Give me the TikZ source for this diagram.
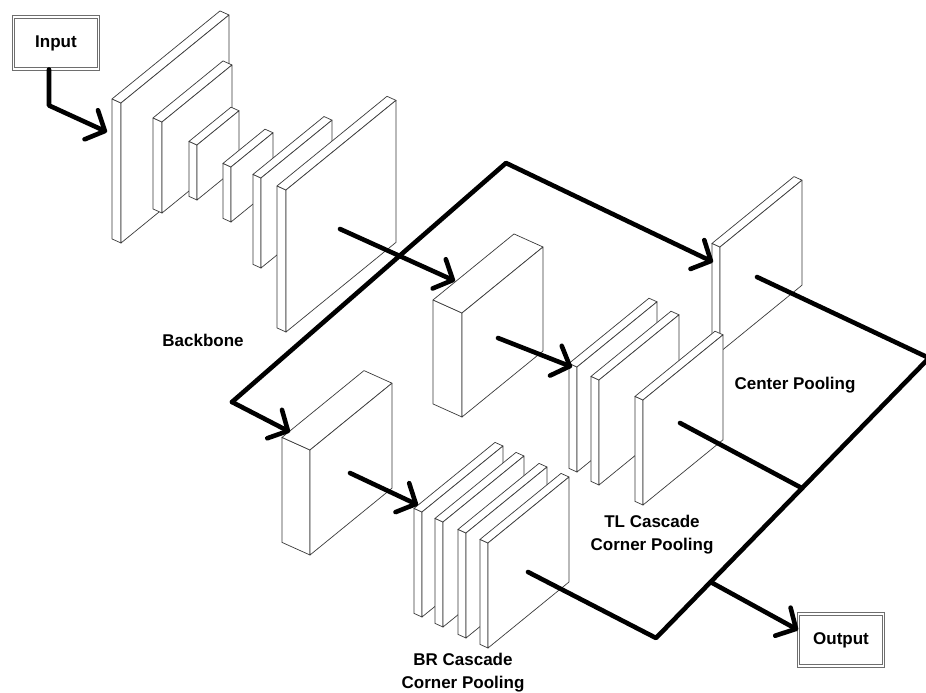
\documentclass[tikz,border=0pt]{standalone}
\usepackage{fontspec}
\setmainfont{Liberation Sans}
\usetikzlibrary{arrows.meta,calc}
\definecolor{cEdge}{HTML}{3A3A3A}
\definecolor{cFrame}{HTML}{6E6E6E}
\tikzset{
  slab/.style  ={draw=cEdge,fill=white,line width=0.7pt,line join=round},
  conn/.style  ={line width=4.6pt,line cap=round,line join=round,black},
  arr/.style   ={conn,-{Straight Barb[length=15pt,width=32pt,round]}},
  iobox/.style ={draw=cFrame,double=white,double distance=1.6pt,line width=0.9pt,
                 minimum width=85pt,minimum height=52pt,
                 font=\fontsize{17}{20}\selectfont\bfseries},
  lbl/.style   ={font=\fontsize{17}{23}\selectfont\bfseries,align=center},
}
% feature map: front bottom-left (#1,#2), width #3, height #4, depth #5
\newcommand{\featmap}[5]{%
  \filldraw[slab] (#1,#2) -- ++(0,-#4) -- ++(-#5,-0.45*#5) -- ++(0,#4) -- cycle;
  \filldraw[slab] (#1,#2-#4) -- ++(#3,-0.815*#3) -- ++(-#5,-0.45*#5) -- ++(-#3,0.815*#3) -- cycle;
  \filldraw[slab] (#1,#2) -- ++(0,-#4) -- ++(#3,-0.815*#3) -- ++(0,#4) -- cycle;
}

\begin{document}
\begin{tikzpicture}[x=1pt,y=-1pt]
\useasboundingbox (0,0) rectangle (926,693);

% backbone
\foreach \x/\y/\w/\h/\d in {121/243/108/140/9, 162/213/70/91/9, 197/200/42/55/8,
                            231/222/42/55/8, 261/268/71/90/8, 286/332/110/142/9}
  {\featmap{\x}{\y}{\w}{\h}{\d}}

% thick maps of the two corner branches
\featmap{462}{417}{81}{104}{29}
\featmap{310}{555}{82}{105}{28}

% center pooling sits behind the TL cascade
\featmap{720}{352}{82}{105}{8}

% TL cascade corner pooling
\foreach \x/\y in {577/472, 599/485, 643/505}
  {\featmap{\x}{\y}{80}{105}{8}}

% BR cascade corner pooling
\foreach \x/\y in {422/617, 443/627, 466/638, 488/648}
  {\featmap{\x}{\y}{81}{105}{8}}

\node[iobox] (in)  at (56,43)  {Input};
\node[iobox] (out) at (841,640) {Output};

\coordinate (bb out)   at (340,229);
\coordinate (tl in)    at (455,281);
\coordinate (split)    at (232,402);
\coordinate (peak)     at (506,163);
\coordinate (cp in)    at (713,262);
\coordinate (br in)    at (290,432);
\coordinate (tl out)   at (498,338);
\coordinate (tlc in)   at (572,367);
\coordinate (br out)   at (350,473);
\coordinate (brc in)   at (418,505);
\coordinate (cp out)   at (757,277);
\coordinate (rc)       at (929,358);
\coordinate (bc)       at (656,638);
\coordinate (tlc out)  at (680,423);
\coordinate (brc out)  at (528,572);
\coordinate (j tl)     at ($(rc)!0.465!(bc)$);
\coordinate (j out)    at ($(rc)!0.8!(bc)$);

\draw[arr] ([xshift=-7pt]in.south) -- ++(0,36) -- (107,132);
\draw[arr] (bb out) -- (tl in);
\draw[arr] (split) -- (peak) -- (cp in);
\draw[arr] (split) -- (br in);
\draw[arr] (tl out) -- (tlc in);
\draw[arr] (br out) -- (brc in);

\draw[conn] (cp out) -- (rc) -- (bc) -- (brc out);
\draw[conn] (tlc out) -- (j tl);
\draw[arr] (j out) -- ([yshift=10pt]out.west);

\node[lbl] (bb lbl)  at (203,340) {Backbone};
\node[lbl] (cp lbl)  at (795,385) {Center Pooling};
\node[lbl] (tl lbl)  at (652,535) {TL Cascade\\Corner Pooling};
\node[lbl] (br lbl)  at (463,673) {BR Cascade\\Corner Pooling};
\end{tikzpicture}
\end{document}
